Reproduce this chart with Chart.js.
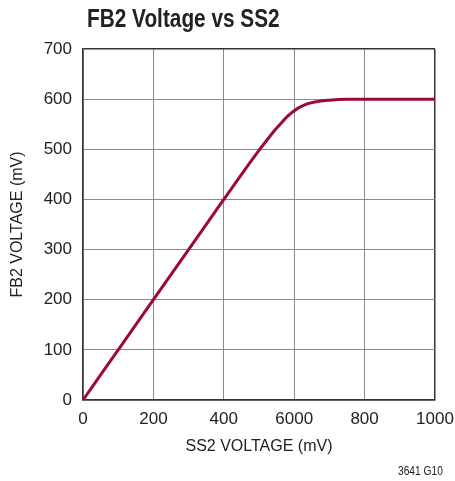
<!DOCTYPE html>
<html>
<head>
<meta charset="utf-8">
<script src="https://cdn.jsdelivr.net/npm/chart.js@4.4.0/dist/chart.umd.min.js"></script>
<style>
  html, body { margin: 0; padding: 0; background: #fff; }
  #wrap { position: relative; width: 455px; height: 481px; }
  #c { position: absolute; left: 0; top: 0; }
  .t { position: absolute; font-family: 'Liberation Sans', Arial, sans-serif; color: #222; white-space: nowrap; line-height: 1; transform-origin: 0 0; }
  #title { left: 87px; top: 5px; font-size: 26px; font-weight: bold; transform: scaleX(0.80); }
  #note { left: 398px; top: 465px; font-size: 12px; transform: scaleX(0.85); }
</style>
</head>
<body>
<div id="wrap">
  <canvas id="c" width="455" height="481"></canvas>
  <div id="title" class="t">FB2 Voltage vs SS2</div>
  <div id="note" class="t">3641 G10</div>
</div>
<script>
const ss2Voltage = [0, 100, 200, 300, 400, 480, 500, 520, 540, 560, 580, 600, 625, 650, 700, 750, 800, 900, 1000];
const fb2Voltage = [0, 100, 200, 300, 400, 479, 498, 516, 534, 550, 565, 577, 587, 593, 598, 600, 600, 600, 600];
const xTickValues = [0, 200, 400, 600, 800, 1000];
const xTickLabels = ['0', '200', '400', '6000', '800', '1000'];
const yTickLabels = ['0', '100', '200', '300', '400', '500', '600', '700'];

const FONT = "'Liberation Sans', Arial, sans-serif";
const points = ss2Voltage.map((x, i) => ({ x: x, y: fb2Voltage[i] }));

new Chart(document.getElementById('c'), {
  type: 'line',
  data: {
    datasets: [{
      data: points,
      borderColor: '#9b0a32',
      borderWidth: 3,
      pointRadius: 0,
      fill: false,
      cubicInterpolationMode: 'monotone'
    }]
  },
  options: {
    responsive: false,
    animation: false,
    layout: { padding: { top: 49, right: 20, left: 0, bottom: 0 } },
    plugins: { legend: { display: false }, tooltip: { enabled: false }, title: { display: false } },
    scales: {
      x: {
        type: 'linear', min: 0, max: 1000,
        afterBuildTicks: s => { s.ticks = xTickValues.map(v => ({ value: v })); },
        afterFit: s => { s.height = 81; s.paddingRight = 0; s.paddingLeft = 0; },
        grid: {
          drawTicks: false,
          color: c => (c.tick && (c.tick.value === 0 || c.tick.value === 1000)) ? '#333' : '#8a8a8a',
          lineWidth: c => (c.tick && (c.tick.value === 0 || c.tick.value === 1000)) ? 1.5 : 1
        },
        border: { color: '#333', width: 1.5 },
        ticks: {
          padding: 9,
          color: '#222',
          font: { family: FONT, size: 17 },
          maxRotation: 0,
          autoSkip: false,
          callback: (v) => { const i = xTickValues.indexOf(v); return i >= 0 ? xTickLabels[i] : ''; }
        },
        title: {
          display: true, text: 'SS2 VOLTAGE (mV)', color: '#222',
          font: { family: FONT, size: 16 },
          padding: { top: 0, bottom: 25 }
        }
      },
      y: {
        type: 'linear', min: 0, max: 700,
        ticks: {
          stepSize: 100, padding: 11, color: '#222',
          font: { family: FONT, size: 17 },
          callback: (v) => yTickLabels[Math.round(v / 100)]
        },
        afterFit: s => { s.width = 83; },
        grid: {
          drawTicks: false,
          color: c => (c.tick && (c.tick.value === 0 || c.tick.value === 700)) ? '#333' : '#8a8a8a',
          lineWidth: c => (c.tick && (c.tick.value === 0 || c.tick.value === 700)) ? 1.5 : 1
        },
        border: { color: '#333', width: 1.5 },
        title: {
          display: true, text: 'FB2 VOLTAGE (mV)', color: '#222',
          font: { family: FONT, size: 16 },
          padding: { top: 8, bottom: 0 }
        }
      }
    }
  }
});
</script>
</body>
</html>
